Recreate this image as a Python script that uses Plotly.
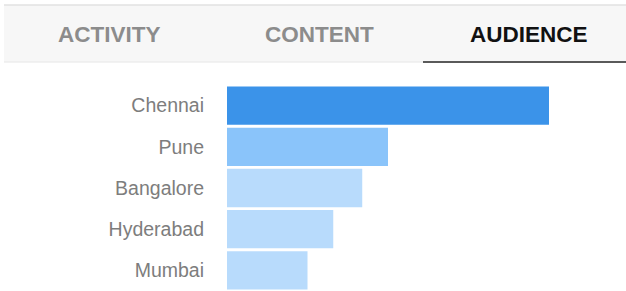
import plotly.graph_objects as go

cities = ["Chennai", "Pune", "Bangalore", "Hyderabad", "Mumbai"]
share = [100, 50, 42, 33, 25]
bar_colors = ["#3b93e9", "#8ac4fa", "#b8dbfc", "#b8dbfc", "#b8dbfc"]
tabs = ["ACTIVITY", "CONTENT", "AUDIENCE"]
tab_colors = ["#8c8c8c", "#8c8c8c", "#111111"]

W, H = 626, 291
ML, MR, MT, MB = 227, 35, 85, 0
PW, PH = W - ML - MR, H - MT - MB

def px(x):
    return (x - ML) / PW

def py(y):
    return (H - MB - y) / PH

fig = go.Figure(go.Bar(
    x=share, y=cities, orientation="h",
    marker=dict(color=bar_colors, line=dict(width=0)),
    hoverinfo="skip",
))

fig.update_layout(
    width=W, height=H,
    margin=dict(l=ML, r=MR, t=MT, b=MB),
    paper_bgcolor="white", plot_bgcolor="white",
    bargap=0.07,
    showlegend=False,
    xaxis=dict(visible=False, range=[0, 100 * PW / 322]),
    yaxis=dict(autorange="reversed", showgrid=False, zeroline=False,
               showline=False, ticks="", ticklabelstandoff=22,
               tickfont=dict(family="Liberation Sans, Arial", size=19.5, color="#7d7d7d")),
)

shapes = [
    dict(type="rect", xref="paper", yref="paper", x0=px(4), x1=px(W), y0=py(62), y1=py(5),
         fillcolor="#f7f7f7", line=dict(width=0), layer="below"),
    dict(type="line", xref="paper", yref="paper", x0=px(4), x1=px(W), y0=py(5), y1=py(5),
         line=dict(color="#e2e2e2", width=1.5)),
    dict(type="line", xref="paper", yref="paper", x0=px(4), x1=px(W), y0=py(62), y1=py(62),
         line=dict(color="#e6e6e6", width=1)),
    dict(type="line", xref="paper", yref="paper", x0=px(423), x1=px(W), y0=py(62), y1=py(62),
         line=dict(color="#5a5a5a", width=2)),
]
fig.update_layout(shapes=shapes)

centers = [109.5, 319, 528.5]
for t, c, cx in zip(tabs, tab_colors, centers):
    fig.add_annotation(text="<b>" + t + "</b>", xref="paper", yref="paper",
                       x=px(cx), y=py(34), showarrow=False, xanchor="center", yanchor="middle",
                       font=dict(family="Liberation Sans, Arial", size=22.5, color=c))

fig.write_html("out.html", config={"displayModeBar": False},
               post_script="document.body.style.margin='0';")
